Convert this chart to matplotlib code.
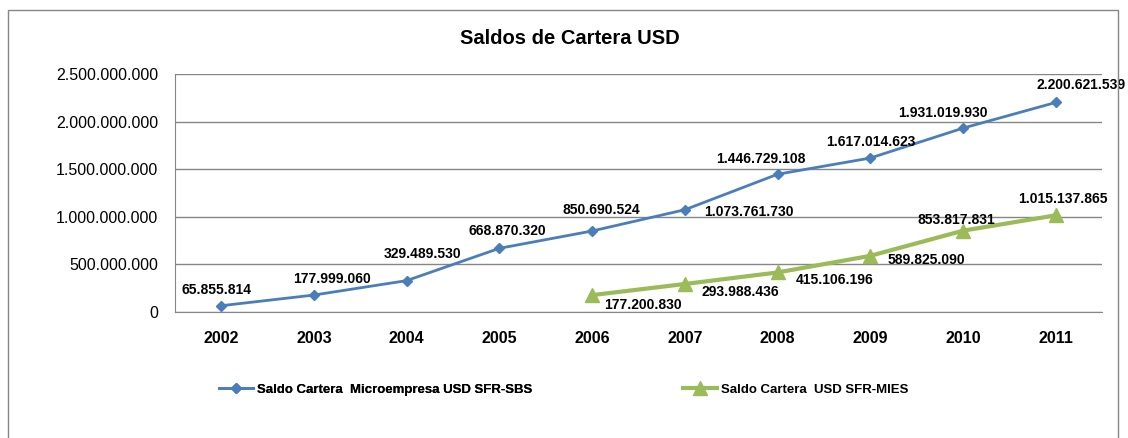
import matplotlib.pyplot as plt
from matplotlib.patches import Rectangle

plt.rcParams['font.family'] = ['Liberation Sans', 'DejaVu Sans']

years = ['2002', '2003', '2004', '2005', '2006', '2007', '2008', '2009', '2010', '2011']
sbs = [65855814, 177999060, 329489530, 668870320, 850690524,
       1073761730, 1446729108, 1617014623, 1931019930, 2200621539]
mies_years = ['2006', '2007', '2008', '2009', '2010', '2011']
mies = [177200830, 293988436, 415106196, 589825090, 853817831, 1015137865]
yticks = [0, 500000000, 1000000000, 1500000000, 2000000000, 2500000000]

# label offsets in pixels (dx, dy), dy positive = down
sbs_off = [(-5, -16), (18, -16), (16, -27), (8, -17), (9, -21),
           (64, 2), (-17, -15), (1, -16), (-20, -15), (25, -17)]
mies_off = [(51, 10), (56, 8), (57, 8), (56, 4), (-7, -11), (7, -16)]

def fmt(v):
    return f'{v:,}'.replace(',', '.')

fig = plt.figure(figsize=(11.28, 4.38), dpi=100)
ax = fig.add_axes([0.155, 0.2877, 0.822, 0.5434])

x_sbs = [years.index(y) for y in years]
x_mies = [years.index(y) for y in mies_years]

blue = '#4A7EBB'
green = '#9BBB59'
l1, = ax.plot(x_sbs, sbs, color=blue, lw=2, marker='D', ms=5.5,
              label='Saldo Cartera  Microempresa USD SFR-SBS')
l2, = ax.plot(x_mies, mies, color=green, lw=3, marker='^', ms=10,
              label='Saldo Cartera  USD SFR-MIES')

for xi, v, (dx, dy) in zip(x_sbs, sbs, sbs_off):
    ax.annotate(fmt(v), (xi, v), xytext=(dx * 0.72, -dy * 0.72), textcoords='offset points',
                ha='center', va='center', fontsize=10, fontweight='bold')
for xi, v, (dx, dy) in zip(x_mies, mies, mies_off):
    ax.annotate(fmt(v), (xi, v), xytext=(dx * 0.72, -dy * 0.72), textcoords='offset points',
                ha='center', va='center', fontsize=10, fontweight='bold')

ax.set_xlim(-0.5, 9.5)
ax.set_ylim(0, 2500000000)
ax.set_xticks(range(len(years)))
ax.set_xticklabels(years, fontsize=11.5, fontweight='bold')
ax.set_yticks(yticks)
ax.set_yticklabels([fmt(t) for t in yticks], fontsize=11.5)
ax.tick_params(length=0)
ax.tick_params(axis='x', pad=14)
ax.tick_params(axis='y', pad=12)
ax.grid(axis='y', color='#868686', lw=1)
ax.set_axisbelow(True)
for s in ['top', 'right']:
    ax.spines[s].set_visible(False)
for s in ['left', 'bottom']:
    ax.spines[s].set_color('#868686')

fig.text(0.505, 0.913, 'Saldos de Cartera USD', ha='center', va='center',
         fontsize=14.5, fontweight='bold')

leg_kw = dict(loc='center left', frameon=False, borderaxespad=0, borderpad=0,
              handlelength=2.6, handletextpad=0.3, prop={'size': 9.5, 'weight': 'bold'})
leg1 = fig.legend(handles=[l1], bbox_to_anchor=(0.194, 0.11), **leg_kw)
fig.legend(handles=[l2], bbox_to_anchor=(0.6055, 0.11), **leg_kw)
fig.add_artist(leg1)

fig.patches.append(Rectangle((0.007, -0.05), 0.984, 1.027, transform=fig.transFigure,
                             fill=False, edgecolor='#868686', lw=1))

plt.savefig('out.png')
